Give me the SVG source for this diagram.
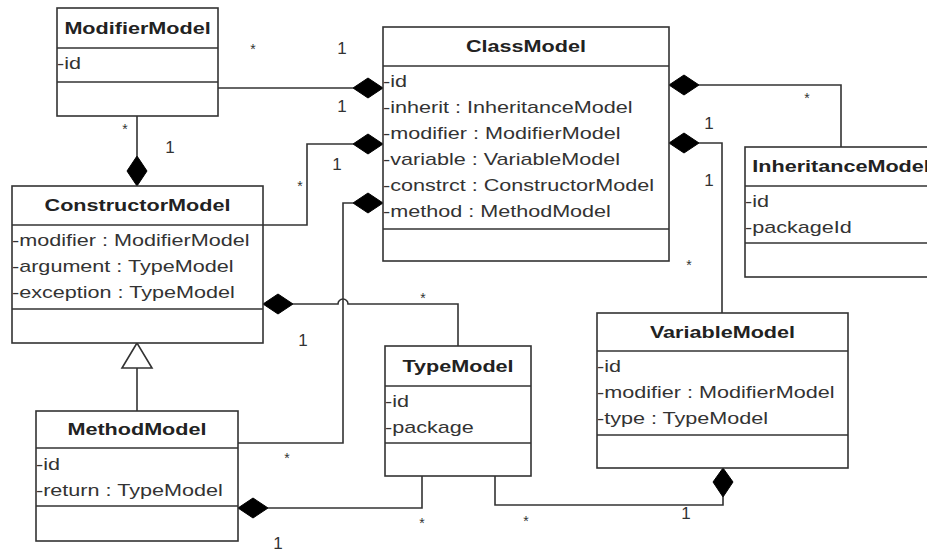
<svg xmlns="http://www.w3.org/2000/svg" width="927" height="553" viewBox="0 0 927 553">
  <style>
    .box { fill: #ffffff; stroke: #333333; stroke-width: 1.6; }
    .div { stroke: #333333; stroke-width: 1.6; }
    .title { font-family: "Liberation Sans", Arial, sans-serif; font-size: 17px; font-weight: bold; fill: #222222; text-anchor: middle; }
    .attr { font-family: "Liberation Sans", Arial, sans-serif; font-size: 17px; fill: #333333; }
    .wire { fill: none; stroke: #333333; stroke-width: 1.6; }
    .comp { fill: #000000; stroke: #000000; stroke-width: 1; }
    .gen { fill: #ffffff; stroke: #333333; stroke-width: 1.6; }
    .lbl { font-family: "Liberation Sans", Arial, sans-serif; font-size: 17px; fill: #333333; text-anchor: middle; }
    .star { font-family: "Liberation Sans", Arial, sans-serif; font-size: 14px; fill: #333333; text-anchor: middle; }
  </style>

  <rect width="927" height="553" fill="#ffffff"/>

  <!-- associations, compositions and generalization -->
  <g id="connectors">
    <!-- ModifierModel to ClassModel -->
    <path class="wire" d="M218,88 H353"/>
    <polygon class="comp" points="383,88 368,78 353,88 368,98"/>
    <!-- ConstructorModel to ClassModel -->
    <path class="wire" d="M263,225 H307 V144 H353"/>
    <polygon class="comp" points="383,144 368,134 353,144 368,154"/>
    <!-- MethodModel to ClassModel -->
    <path class="wire" d="M238,443 H343 V203 H353"/>
    <polygon class="comp" points="383,203 368,193 353,203 368,213"/>
    <!-- ConstructorModel to TypeModel, hopping over the vertical wire -->
    <path class="wire" d="M293,304 H338 A5,5 0 0 1 348,304 H458 V346"/>
    <polygon class="comp" points="263,304 278,294 293,304 278,314"/>
    <!-- ModifierModel to ConstructorModel -->
    <path class="wire" d="M137,116 V156"/>
    <polygon class="comp" points="137,186 147,171 137,156 127,171"/>
    <!-- ClassModel to InheritanceModel -->
    <path class="wire" d="M699,85 H841 V147"/>
    <polygon class="comp" points="669,85 684,75 699,85 684,95"/>
    <!-- ClassModel to VariableModel -->
    <path class="wire" d="M699,143 H722 V313"/>
    <polygon class="comp" points="669,143 684,133 699,143 684,153"/>
    <!-- MethodModel extends ConstructorModel -->
    <path class="wire" d="M137,368 V411"/>
    <polygon class="gen" points="137,343 122,368 152,368"/>
    <!-- MethodModel to TypeModel -->
    <path class="wire" d="M268,508 H422 V476"/>
    <polygon class="comp" points="238,508 253,498 268,508 253,518"/>
    <!-- VariableModel to TypeModel -->
    <path class="wire" d="M723,497 V505 H495 V476"/>
    <polygon class="comp" points="723,468 733,482 723,497 713,482"/>

    <!-- multiplicities -->
    <text class="lbl" x="342" y="54">1</text>
    <text class="lbl" x="342" y="112">1</text>
    <text class="lbl" x="170" y="153">1</text>
    <text class="lbl" x="337" y="170">1</text>
    <text class="lbl" x="709" y="129">1</text>
    <text class="lbl" x="709" y="186">1</text>
    <text class="lbl" x="303" y="346">1</text>
    <text class="lbl" x="278" y="549">1</text>
    <text class="lbl" x="686" y="519">1</text>
    <text class="star" x="253" y="54">*</text>
    <text class="star" x="125" y="134">*</text>
    <text class="star" x="300" y="191">*</text>
    <text class="star" x="807" y="103">*</text>
    <text class="star" x="689" y="270">*</text>
    <text class="star" x="423" y="303">*</text>
    <text class="star" x="287" y="463">*</text>
    <text class="star" x="422" y="528">*</text>
    <text class="star" x="526" y="526">*</text>
  </g>

  <g id="ModifierModel">
    <rect class="box" x="57" y="8" width="161" height="108"/>
    <line class="div" x1="57" y1="48" x2="218" y2="48"/>
    <line class="div" x1="57" y1="82" x2="218" y2="82"/>
    <g transform="translate(57 0) scale(1.27 1)">
      <text class="title" x="63.4" y="34">ModifierModel</text>
      <text class="attr" x="0" y="69">-id</text>
    </g>
  </g>

  <g id="ClassModel">
    <rect class="box" x="383" y="27" width="286" height="234"/>
    <line class="div" x1="383" y1="66" x2="669" y2="66"/>
    <line class="div" x1="383" y1="229" x2="669" y2="229"/>
    <g transform="translate(383 0) scale(1.27 1)">
      <text class="title" x="112.6" y="52.5">ClassModel</text>
      <text class="attr" x="0" y="87">-id</text>
      <text class="attr" x="0" y="113">-inherit : InheritanceModel</text>
      <text class="attr" x="0" y="139">-modifier : ModifierModel</text>
      <text class="attr" x="0" y="165">-variable : VariableModel</text>
      <text class="attr" x="0" y="191">-constrct : ConstructorModel</text>
      <text class="attr" x="0" y="217">-method : MethodModel</text>
    </g>
  </g>

  <g id="InheritanceModel">
    <rect class="box" x="745" y="147" width="192" height="130"/>
    <line class="div" x1="745" y1="186" x2="937" y2="186"/>
    <line class="div" x1="745" y1="243" x2="937" y2="243"/>
    <g transform="translate(745 0) scale(1.27 1)">
      <text class="title" x="75.6" y="172.5">InheritanceModel</text>
      <text class="attr" x="0" y="207">-id</text>
      <text class="attr" x="0" y="233">-packageId</text>
    </g>
  </g>

  <g id="ConstructorModel">
    <rect class="box" x="12" y="186" width="251" height="157"/>
    <line class="div" x1="12" y1="225" x2="263" y2="225"/>
    <line class="div" x1="12" y1="309" x2="263" y2="309"/>
    <g transform="translate(12 0) scale(1.27 1)">
      <text class="title" x="98.8" y="211.5">ConstructorModel</text>
      <text class="attr" x="0" y="246">-modifier : ModifierModel</text>
      <text class="attr" x="0" y="272">-argument : TypeModel</text>
      <text class="attr" x="0" y="298">-exception : TypeModel</text>
    </g>
  </g>

  <g id="MethodModel">
    <rect class="box" x="36" y="411" width="202" height="130"/>
    <line class="div" x1="36" y1="448" x2="238" y2="448"/>
    <line class="div" x1="36" y1="506" x2="238" y2="506"/>
    <g transform="translate(36 0) scale(1.27 1)">
      <text class="title" x="79.5" y="435.5">MethodModel</text>
      <text class="attr" x="0" y="470">-id</text>
      <text class="attr" x="0" y="496">-return : TypeModel</text>
    </g>
  </g>

  <g id="TypeModel">
    <rect class="box" x="385" y="346" width="146" height="130"/>
    <line class="div" x1="385" y1="386" x2="531" y2="386"/>
    <line class="div" x1="385" y1="443" x2="531" y2="443"/>
    <g transform="translate(385 0) scale(1.27 1)">
      <text class="title" x="57.5" y="372">TypeModel</text>
      <text class="attr" x="0" y="407">-id</text>
      <text class="attr" x="0" y="433">-package</text>
    </g>
  </g>

  <g id="VariableModel">
    <rect class="box" x="597" y="313" width="251" height="155"/>
    <line class="div" x1="597" y1="351" x2="848" y2="351"/>
    <line class="div" x1="597" y1="435" x2="848" y2="435"/>
    <g transform="translate(597 0) scale(1.27 1)">
      <text class="title" x="98.8" y="338">VariableModel</text>
      <text class="attr" x="0" y="372">-id</text>
      <text class="attr" x="0" y="398">-modifier : ModifierModel</text>
      <text class="attr" x="0" y="424">-type : TypeModel</text>
    </g>
  </g>
</svg>
